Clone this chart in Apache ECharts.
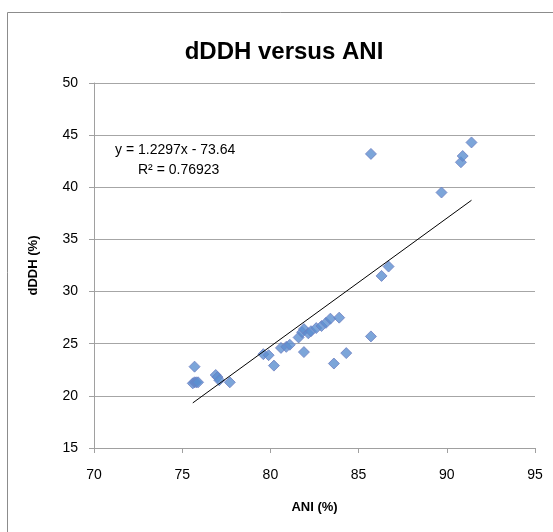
<!DOCTYPE html>
<html>
<head>
<meta charset="utf-8">
<script src="https://cdn.jsdelivr.net/npm/echarts@6/dist/echarts.min.js"></script>
<style>
html,body{margin:0;padding:0;background:#fff;}
#chart{width:553px;height:532px;}
</style>
</head>
<body>
<div id="chart"></div>
<script>
// Data
const aniValues = [75.7, 75.6, 75.7, 75.8, 75.9, 76.9, 77.0, 77.1, 77.7, 79.6, 79.9, 80.2, 80.6, 80.9, 81.1, 81.6, 81.8, 81.9, 81.9, 82.15, 82.3, 82.6, 82.9, 83.15, 83.4, 83.9, 83.6, 84.3, 85.7, 85.7, 86.3, 86.7, 89.7, 90.8, 90.9, 91.4];
const dddhValues = [22.8, 21.2, 21.3, 21.3, 21.3, 22.0, 21.8, 21.5, 21.3, 24.0, 23.9, 22.9, 24.6, 24.7, 24.9, 25.6, 26.1, 26.4, 24.2, 26.0, 26.2, 26.5, 26.7, 27.0, 27.4, 27.5, 23.1, 24.1, 25.7, 43.2, 31.5, 32.4, 39.5, 42.4, 43.0, 44.3];
const trendSlope = 1.2297;
const trendIntercept = -73.64;
const equationText = 'y = 1.2297x - 73.64';
const r2Text = 'R² = 0.76923';
const xTicks = [70, 75, 80, 85, 90, 95];
const yTicks = [15, 20, 25, 30, 35, 40, 45, 50];

const points = aniValues.map((x, i) => [x, dddhValues[i]]);
const xMinData = Math.min(...aniValues);
const xMaxData = Math.max(...aniValues);
const trend = [xMinData, xMaxData].map(x => [x, trendSlope * x + trendIntercept]);

const font = '"Liberation Sans", Arial, sans-serif';
const chart = echarts.init(document.getElementById('chart'), null, {renderer: 'canvas'});
chart.setOption({
  animation: false,
  backgroundColor: '#fff',
  title: {
    text: 'dDDH versus ANI',
    left: 279, top: 35, textAlign: 'center',
    textStyle: {fontFamily: font, fontWeight: 'bold', fontSize: 24, color: '#000'}
  },
  grid: {left: 94, right: 18, top: 83, bottom: 84},
  xAxis: {
    type: 'value', min: xTicks[0], max: xTicks[xTicks.length - 1], interval: 5,
    name: 'ANI (%)', nameLocation: 'middle', nameGap: 53,
    nameTextStyle: {fontFamily: font, fontWeight: 'bold', fontSize: 13, color: '#000'},
    axisLine: {show: true, onZero: false, lineStyle: {color: '#A0A0A0', width: 1}},
    axisTick: {show: true, inside: false, length: 5, lineStyle: {color: '#A0A0A0'}},
    axisLabel: {fontFamily: font, fontSize: 14, color: '#000', margin: 20},
    splitLine: {show: false}
  },
  yAxis: {
    type: 'value', min: yTicks[0], max: yTicks[yTicks.length - 1], interval: 5,
    name: 'dDDH (%)', nameLocation: 'middle', nameGap: 54, nameRotate: 90,
    nameTextStyle: {fontFamily: font, fontWeight: 'bold', fontSize: 13, color: '#000'},
    axisLine: {show: true, onZero: false, lineStyle: {color: '#A0A0A0', width: 1}},
    axisTick: {show: true, inside: false, length: 5, lineStyle: {color: '#A0A0A0'}},
    axisLabel: {fontFamily: font, fontSize: 14, color: '#000', margin: 16},
    splitLine: {show: true, lineStyle: {color: '#A6A6A6', width: 1}}
  },
  graphic: [
    {type: 'rect', shape: {x: 7.5, y: 12.5, width: 600, height: 600}, style: {fill: 'none', stroke: '#8C8C8C', lineWidth: 1}, z: -1},
    {type: 'text', left: 115, top: 143, style: {text: equationText, font: '14px ' + font, fill: '#000'}},
    {type: 'text', left: 138, top: 163, style: {text: r2Text, font: '14px ' + font, fill: '#000'}}
  ],
  series: [
    {
      type: 'scatter', data: points, symbol: 'diamond', symbolSize: 11,
      itemStyle: {color: '#5B8FD0', borderColor: '#6E80C2', borderWidth: 1}
    },
    {
      type: 'line', data: trend, symbol: 'none', silent: true,
      lineStyle: {color: '#000', width: 1}
    }
  ]
});
</script>
</body>
</html>
